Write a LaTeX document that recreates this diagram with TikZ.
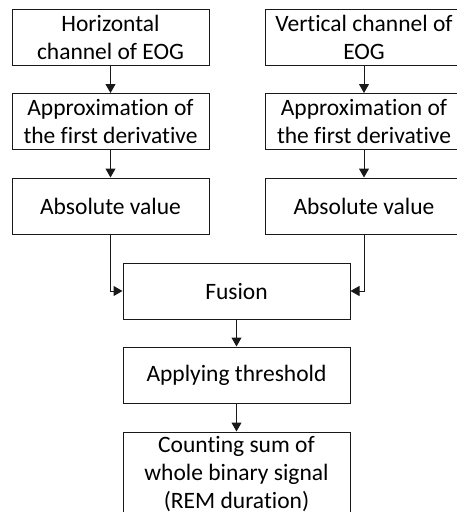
\documentclass[tikz,border=0pt]{standalone}
\usepackage{fontspec}
\setmainfont{Carlito}[Ligatures={NoCommon,NoRare,NoContextual},RawFeature={-calt}]
\usetikzlibrary{arrows.meta}
% keep "t" and "i" as separate glyphs
\newcommand{\tisep}{t\kern0pt i}
\begin{document}
\begin{tikzpicture}[x=1pt,y=1pt,
  stepbox/.style={draw=black!90, line width=1pt, rectangle, inner sep=0pt,
    minimum width=197pt, minimum height=56pt, align=center,
    font=\fontsize{23.5}{28}\selectfont},
  flow/.style={draw=black!90, line width=1pt, -{Triangle[length=9pt,width=10pt]}}]
\useasboundingbox (0,0) rectangle (457,-512);
\clip (0,0) rectangle (457,-512);
% left branch: horizontal channel
\node[stepbox] (h1) at (110.5,-37) {Horizontal\\channel of EOG};
\node[stepbox] (h2) at (110.5,-121.5) {Approxima\tisep on of\\the first deriva\tisep ve};
\node[stepbox] (h3) at (110.5,-206) {Absolute value};
% right branch: vertical channel
\node[stepbox, minimum width=198pt] (v1) at (364,-37) {Ver\tisep cal channel of\\EOG};
\node[stepbox, minimum width=198pt] (v2) at (364,-121.5) {Approxima\tisep on of\\the first deriva\tisep ve};
\node[stepbox, minimum width=198pt] (v3) at (364,-206) {Absolute value};
% merged chain
\node[stepbox, minimum width=227pt] (fu) at (236.5,-291) {Fusion};
\node[stepbox, minimum width=227pt] (th) at (236.5,-375) {Applying threshold};
\node[stepbox, minimum width=227pt, minimum height=84pt] (cs) at (236.5,-474)
  {Counting sum of\\whole binary signal\\(REM dura\tisep on)};
% connectors
\draw[flow] (h1) -- (h2);
\draw[flow] (h2) -- (h3);
\draw[flow] (v1) -- (v2);
\draw[flow] (v2) -- (v3);
\draw[flow] (h3.south) |- (fu.west);
\draw[flow] (v3.south) |- (fu.east);
\draw[flow] (fu) -- (th);
\draw[flow] (th) -- (cs);
\end{tikzpicture}
\end{document}
